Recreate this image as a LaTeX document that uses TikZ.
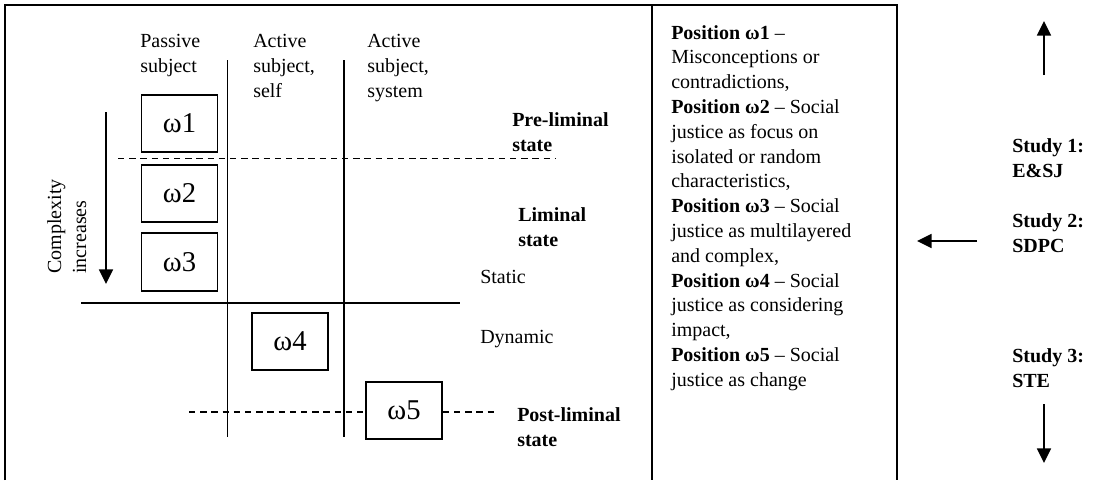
\documentclass[tikz,border=0pt]{standalone}
\usepackage{fontspec}
\setmainfont{Liberation Serif}
\usetikzlibrary{arrows.meta}

\begin{document}
\begin{tikzpicture}[x=0.75pt,y=-0.75pt,
  frame/.style={line width=1.5pt},
  rule/.style={line width=1.2pt},
  guide/.style={line width=1.1pt, dash pattern=on 4.8pt off 3.6pt},
  wbox/.style={draw, line width=1.3pt, minimum width=57pt, minimum height=43pt,
    inner sep=0pt, font=\fontsize{21.5}{24}\selectfont},
  % multi-line labels are anchored at the baseline of their last line
  lbl/.style={inner sep=0pt, anchor=base west, align=left,
    font=\fontsize{15}{18.75}\selectfont},
  blbl/.style={lbl, font=\fontsize{15}{18.75}\selectfont\bfseries},
  arr/.style={line width=1.3pt, -{Triangle[length=11pt, width=10.5pt]}},
]
\useasboundingbox (0,0) rectangle (1093,480);

% outer frame, open at the bottom, and the divider before the legend
\coordinate (fbl) at (5,480);
\coordinate (ftl) at (5,5);
\coordinate (ftr) at (897,5);
\coordinate (fbr) at (897,480);
\coordinate (dtop) at (652,5);
\coordinate (dbot) at (652,480);
\draw[frame] (fbl) -- (ftl) -- (ftr) -- (fbr);
\draw[frame] (dtop) -- (dbot);

% column headers
\node[lbl] (hpassive) at (140,72) {Passive\\subject};
\node[lbl] (hself) at (253,97) {Active\\subject,\\self};
\node[lbl] (hsystem) at (367,97) {Active\\subject,\\system};

% grid lines
\coordinate (v1t) at (227.5,60);
\coordinate (v1b) at (227.5,437);
\coordinate (v2t) at (344,60);
\coordinate (v2b) at (344,437);
\coordinate (hl) at (81,303);
\coordinate (hr) at (460,303);
\draw[rule] (v1t) -- (v1b);
\draw[rule] (v2t) -- (v2b);
\draw[rule] (hl) -- (hr);

% positions
\node[wbox] (w1) at (179.5,123.5) {ω1};
\node[wbox] (w2) at (179.5,193.5) {ω2};
\node[wbox] (w3) at (179.5,262) {ω3};
\node[wbox] (w4) at (290,341.5) {ω4};
\node[wbox] (w5) at (404,410.5) {ω5};

% threshold lines
\coordinate (d1l) at (118,158.5);
\coordinate (d1r) at (556,158.5);
\coordinate (d2l) at (189,412);
\coordinate (d2r) at (498,412);
\draw[guide] (d1l) -- (d1r);
\draw[guide] (d2l) -- (w5.west |- d2l);
\draw[guide] (w5.east |- d2r) -- (d2r);

% state labels
\node[blbl] (pre) at (512,151) {Pre-liminal\\state};
\node[blbl] (lim) at (518,246) {Liminal\\state};
\node[lbl] (static) at (480,283) {Static};
\node[lbl] (dynamic) at (480,343) {Dynamic};
\node[blbl] (post) at (517,446) {Post-liminal\\state};

% complexity axis
\node[lbl, rotate=90] (complexity) at (86,274) {Complexity\\increases};
\coordinate (ct) at (106,112);
\coordinate (cb) at (106,284);
\draw[arr] (ct) -- (cb);

% legend
\node[lbl, font=\fontsize{15}{18.6}\selectfont] (legend) at (671,386.2)
  {\textbf{Position ω1} –\\
   Misconceptions or\\
   contradictions,\\
   \textbf{Position ω2} – Social\\
   justice as focus on\\
   isolated or random\\
   characteristics,\\
   \textbf{Position ω3} – Social\\
   justice as multilayered\\
   and complex,\\
   \textbf{Position ω4} – Social\\
   justice as considering\\
   impact,\\
   \textbf{Position ω5} – Social\\
   justice as change};

% studies
\node[blbl] (s1) at (1012,177) {Study 1:\\E\&SJ};
\node[blbl] (s2) at (1012,252) {Study 2:\\SDPC};
\node[blbl] (s3) at (1012,387) {Study 3:\\STE};
\coordinate (upb) at (1044,75);
\coordinate (upt) at (1044,21);
\coordinate (dnt) at (1044,404);
\coordinate (dnb) at (1044,463);
\coordinate (lfr) at (977,241);
\coordinate (lfl) at (917,241);
\draw[arr] (upb) -- (upt);
\draw[arr] (dnt) -- (dnb);
\draw[arr] (lfr) -- (lfl);
\end{tikzpicture}
\end{document}
